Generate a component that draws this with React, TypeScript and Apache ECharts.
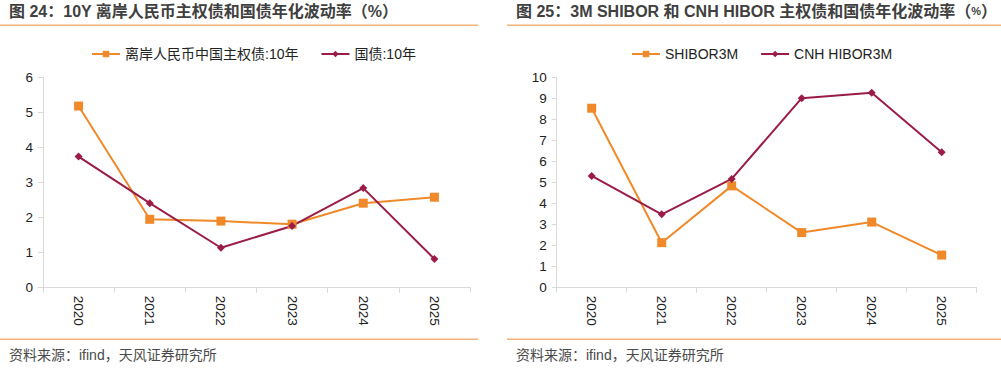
import React, { useEffect, useRef } from "react";
import * as echarts from "echarts";

const years = ["2020", "2021", "2022", "2023", "2024", "2025"];
const offshoreSov10Y = [5.18, 1.95, 1.9, 1.81, 2.41, 2.58];
const cgb10Y = [3.74, 2.41, 1.14, 1.76, 2.84, 0.82];
const shibor3M = [8.53, 2.14, 4.84, 2.62, 3.12, 1.55];
const cnhHibor3M = [5.31, 3.49, 5.17, 9.01, 9.27, 6.44];

const ORANGE = "#F0892A";
const MAROON = "#9A1C47";
const FONT = "'Liberation Sans', 'Noto Sans CJK SC', Arial, sans-serif";

export default function App() {
  const ref = useRef<HTMLDivElement>(null);
  useEffect(() => {
    if (!ref.current) return;
    const chart = echarts.init(ref.current, null, { renderer: "svg" });
    const xAxisBase = (gridIndex: number) => ({
      type: "category",
      gridIndex,
      data: years,
      boundaryGap: true,
      axisLine: { lineStyle: { color: "#D9D9D9", width: 1 } },
      axisTick: { show: true, lineStyle: { color: "#D9D9D9" }, length: 5 },
      axisLabel: { rotate: -90, color: "#222", fontSize: 13.5, fontFamily: FONT, margin: 8 },
    });
    const yAxisBase = (gridIndex: number, max: number) => ({
      type: "value",
      gridIndex,
      min: 0,
      max,
      interval: 1,
      splitLine: { show: false },
      axisLine: { show: true, lineStyle: { color: "#D9D9D9", width: 1 } },
      axisTick: { show: true, lineStyle: { color: "#D9D9D9" }, length: 5 },
      axisLabel: { color: "#222", fontSize: 13.5, fontFamily: FONT, margin: 10 },
    });
    const lineSeries = (name: string, data: number[], idx: number, color: string, symbol: string, size: number) => ({
      name,
      type: "line",
      xAxisIndex: idx,
      yAxisIndex: idx,
      data,
      symbol,
      symbolSize: size,
      lineStyle: { color, width: 2 },
      itemStyle: { color },
    });
    const legendBase = {
      itemWidth: 28,
      itemHeight: 8,
      itemGap: 22,
      textStyle: { color: "#222", fontSize: 14, fontFamily: FONT },
    };
    chart.setOption({
      animation: false,
      backgroundColor: "#fff",
      grid: [
        { left: 43, right: 531, top: 77.3, bottom: 88.3 },
        { left: 556.7, right: 24.3, top: 77.3, bottom: 88.3 },
      ],
      xAxis: [xAxisBase(0), xAxisBase(1)],
      yAxis: [yAxisBase(0, 6), yAxisBase(1, 10)],
      legend: [
        { ...legendBase, data: ["离岸人民币中国主权债:10年", "国债:10年"], left: 86, top: 42 },
        { ...legendBase, data: ["SHIBOR3M", "CNH HIBOR3M"], left: 626, top: 42 },
      ],
      series: [
        lineSeries("离岸人民币中国主权债:10年", offshoreSov10Y, 0, ORANGE, "rect", 9),
        lineSeries("国债:10年", cgb10Y, 0, MAROON, "diamond", 8),
        lineSeries("SHIBOR3M", shibor3M, 1, ORANGE, "rect", 9),
        lineSeries("CNH HIBOR3M", cnhHibor3M, 1, MAROON, "diamond", 8),
      ],
      graphic: [
        {
          type: "text",
          left: 9,
          top: 3,
          style: { text: "图 24：10Y 离岸人民币主权债和国债年化波动率（%）", fontSize: 16, fontWeight: "bold", fill: "#404040", fontFamily: FONT },
        },
        {
          type: "text",
          left: 516,
          top: 3,
          style: {
            text: "{a|图 25：3M SHIBOR 和 CNH HIBOR 主权债和国债年化波动率（}{b|%}{a|）}",
            rich: {
              a: { fontSize: 16, fontWeight: "bold", fill: "#404040", color: "#404040", fontFamily: FONT },
              b: { fontSize: 11, fontWeight: "bold", fill: "#404040", color: "#404040", fontFamily: FONT },
            },
          },
        },
        { type: "rect", shape: { x: 0, y: 24.5, width: 478, height: 1.5 }, style: { fill: "#F2B27A" } },
        { type: "rect", shape: { x: 507, y: 24.5, width: 494, height: 1.5 }, style: { fill: "#F2B27A" } },
        { type: "rect", shape: { x: 0, y: 338.5, width: 478, height: 1.5 }, style: { fill: "#F2B27A" } },
        { type: "rect", shape: { x: 507, y: 338.5, width: 494, height: 1.5 }, style: { fill: "#F2B27A" } },
        {
          type: "text",
          left: 9,
          top: 348,
          style: { text: "资料来源：ifind，天风证券研究所", fontSize: 14, fill: "#4a4a4a", fontFamily: FONT },
        },
        {
          type: "text",
          left: 516,
          top: 348,
          style: { text: "资料来源：ifind，天风证券研究所", fontSize: 14, fill: "#4a4a4a", fontFamily: FONT },
        },
      ],
    });
    return () => chart.dispose();
  }, []);
  return (
    <div
      ref={ref}
      style={{ position: "absolute", left: 0, top: 0, width: 1001, height: 376 }}
    />
  );
}
